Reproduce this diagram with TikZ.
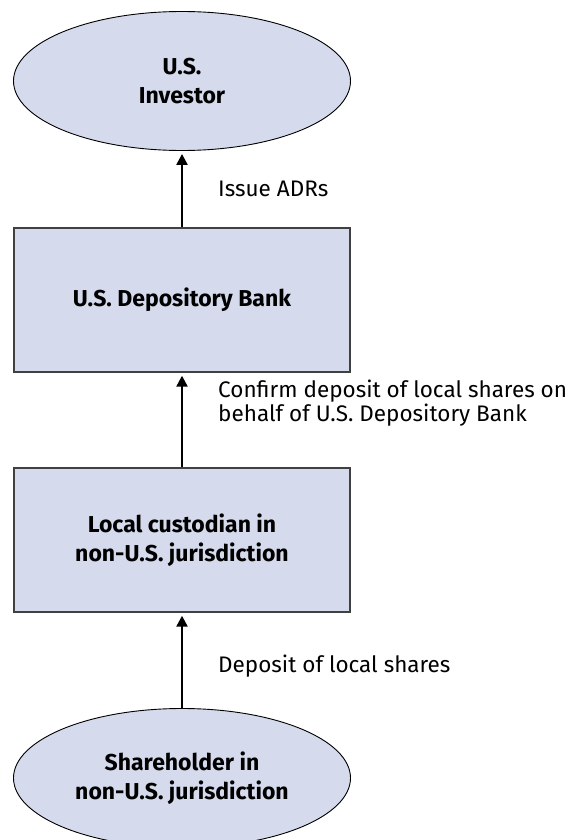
\documentclass[tikz,border=0pt]{standalone}
\usepackage{fontspec}
\setmainfont{Fira Sans}
\usetikzlibrary{shapes.geometric,arrows.meta}
\definecolor{nodefill}{RGB}{213,218,236}
\definecolor{boxline}{RGB}{64,64,64}
\tikzset{
  party/.style={ellipse, draw=black, line width=0.9pt, fill=nodefill,
    minimum width=337pt, minimum height=139pt, inner sep=0pt,
    align=center, font=\fontsize{23}{29}\selectfont\bfseries},
  agent/.style={rectangle, draw=boxline, line width=1.4pt, fill=nodefill,
    minimum width=336pt, minimum height=144pt, inner sep=0pt,
    align=center, font=\fontsize{23}{29}\selectfont\bfseries},
  flow/.style={line width=2.3pt, -{Triangle[width=11pt,length=11pt]}, shorten >=3pt},
  note/.style={anchor=west, inner sep=0pt, align=left,
    font=\fontsize{22.5}{24}\selectfont}
}
\begin{document}
\begin{tikzpicture}[x=1pt,y=-1pt]
\useasboundingbox (0,0) rectangle (571,840);
\node[party] (investor) at (182,81) {U.S.\\Investor};
\node[agent] (bank) at (182,300) {U.S. Depository Bank};
\node[agent] (custodian) at (182,540) {Local custodian in\\non-U.S. jurisdiction};
\node[party] (holder) at (182,778) {Shareholder in\\non-U.S. jurisdiction};

\draw[flow] (bank.north) -- (investor.south);
\draw[flow] (custodian.north) -- (bank.south);
\draw[flow] (holder.north) -- (custodian.south);

\node[note] (issue) at (218,189) {Issue ADRs};
\node[note] (confirm) at (218,403) {Confirm deposit of local shares on\\behalf of U.S. Depository Bank};
\node[note] (deposit) at (218,666) {Deposit of local shares};
\end{tikzpicture}
\end{document}
